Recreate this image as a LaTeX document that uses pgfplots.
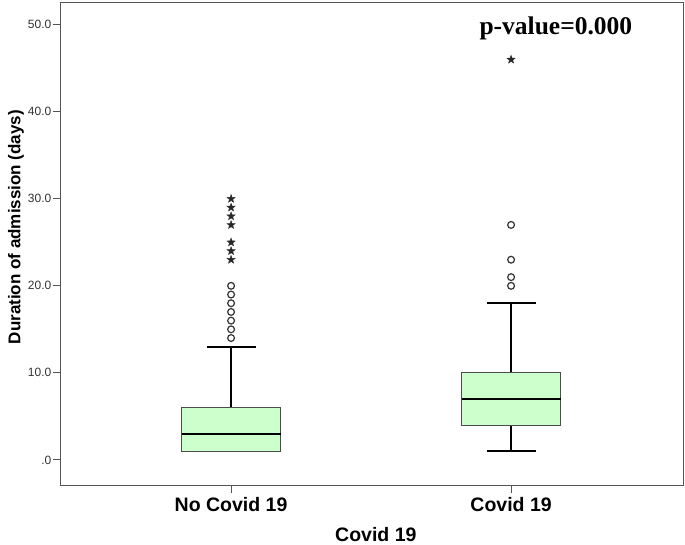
\documentclass[border=0pt]{standalone}
\usepackage{pgfplots}
\pgfplotsset{compat=1.18}
\usepgfplotslibrary{statistics}
\usepackage{fontspec}
\setmainfont{Liberation Sans}
\newfontfamily\pfont{Liberation Serif}
\definecolor{boxgreen}{HTML}{CCFFCC}
\definecolor{axisgray}{HTML}{555555}

% filled five-pointed star, as SPSS draws extreme outliers
\pgfdeclareplotmark{fstar}{%
  \pgfpathmoveto{\pgfpointpolar{90}{\pgfplotmarksize}}%
  \pgfpathlineto{\pgfpointpolar{126}{0.42*\pgfplotmarksize}}%
  \pgfpathlineto{\pgfpointpolar{162}{\pgfplotmarksize}}%
  \pgfpathlineto{\pgfpointpolar{198}{0.42*\pgfplotmarksize}}%
  \pgfpathlineto{\pgfpointpolar{234}{\pgfplotmarksize}}%
  \pgfpathlineto{\pgfpointpolar{270}{0.42*\pgfplotmarksize}}%
  \pgfpathlineto{\pgfpointpolar{306}{\pgfplotmarksize}}%
  \pgfpathlineto{\pgfpointpolar{342}{0.42*\pgfplotmarksize}}%
  \pgfpathlineto{\pgfpointpolar{18}{\pgfplotmarksize}}%
  \pgfpathlineto{\pgfpointpolar{54}{0.42*\pgfplotmarksize}}%
  \pgfpathclose
  \pgfusepathqfillstroke
}

\begin{document}
\begin{tikzpicture}
\begin{axis}[
  scale only axis,
  width=623pt, height=483pt,
  xmin=-0.611, xmax=1.614,
  ymin=-3, ymax=52.5,
  axis line style={axisgray, line width=1pt},
  xtick={0,1},
  xticklabels={No Covid 19, Covid 19},
  x tick label style={font=\fontsize{19.5}{22}\selectfont\bfseries, yshift=-1pt},
  ytick={0,10,20,30,40,50},
  yticklabels={.0,10.0,20.0,30.0,40.0,50.0},
  y tick label style={font=\fontsize{12}{14}\selectfont, text=black!80, inner sep=1.5pt},
  tick align=outside,
  tick pos=left,
  major tick length=7pt,
  tick style={axisgray, line width=1pt},
  xlabel={Covid 19},
  ylabel={Duration of admission (days)},
  xlabel style={font=\fontsize{19.5}{22}\selectfont\bfseries, at={(axis description cs:0.507,-0.101)}, anchor=center},
  ylabel style={font=\fontsize{17}{20}\selectfont\bfseries, at={(axis description cs:-0.0706,0.536)}, anchor=center},
  boxplot/draw direction=y,
  boxplot/box extend=0.354,
  boxplot/whisker extend=0.175,
  boxplot/every median/.style={line width=2.2pt, black},
  boxplot/every whisker/.style={line width=1.5pt, black},
  boxplot/every box/.style={line width=1.1pt, draw=black!70, fill=boxgreen},
]
\addplot[boxplot prepared={
    draw position=0,
    lower whisker=1, lower quartile=1, median=3,
    upper quartile=6, upper whisker=13},
  black, mark=o, mark size=3.4pt, mark options={line width=1.2pt, black!80, fill=white}]
  table[row sep=\\, y index=0] {14\\ 15\\ 16\\ 17\\ 18\\ 19\\ 20\\};
\addplot[boxplot prepared={
    draw position=1,
    lower whisker=1, lower quartile=4, median=7,
    upper quartile=10, upper whisker=18},
  black, mark=o, mark size=3.4pt, mark options={line width=1.2pt, black!80, fill=white}]
  table[row sep=\\, y index=0] {20\\ 21\\ 23\\ 27\\};
\addplot[only marks, mark=fstar, mark size=4.2pt, mark options={line width=0.5pt, draw=black!80, fill=black!85}]
  coordinates {(0,23) (0,24) (0,25) (0,27) (0,28) (0,29) (0,30) (1,46)};
\node[font=\pfont\fontsize{25.5}{28}\selectfont\bfseries, anchor=center] at (axis cs:1.16,49.6) {p-value=0.000};
\end{axis}
\pgfresetboundingbox
\path ([shift={(-60pt,-59pt)}]current axis.south west) rectangle ([shift={(2pt,3pt)}]current axis.north east);
\end{tikzpicture}
\end{document}
